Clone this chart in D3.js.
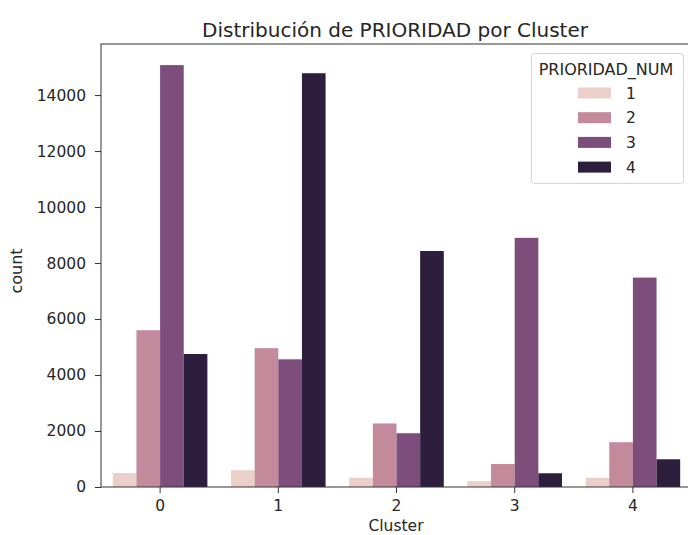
<!DOCTYPE html>
<html><head><meta charset="utf-8">
<script src="https://cdn.jsdelivr.net/npm/d3@7"></script>
<style>body{margin:0;background:#fff}svg{display:block}text{font-family:"DejaVu Sans",sans-serif;fill:#262626}</style>
</head><body><div id="chart"></div>
<script>
const clusters = ["0","1","2","3","4"];
const priorities = ["1","2","3","4"];
const p1 = [500, 600, 330, 210, 330];
const p2 = [5600, 4960, 2270, 820, 1600];
const p3 = [15070, 4560, 1920, 8900, 7480];
const p4 = [4750, 14780, 8430, 490, 990];
const yTicks = [0, 2000, 4000, 6000, 8000, 10000, 12000, 14000];
const colors = ["#ebcfc9", "#c38a9b", "#7d4e7b", "#2d1e3d"];
const series = [p1, p2, p3, p4];

const W = 688, H = 535;
const m = {left: 101, top: 44, right: 692, bottom: 487};
const svg = d3.select("#chart").append("svg").attr("width", W).attr("height", H);

const x = d3.scaleBand().domain(clusters).range([m.left, m.right]).paddingInner(0.2).paddingOuter(0.1);
const xi = d3.scaleBand().domain(priorities).range([0, x.bandwidth()]);
const y = d3.scaleLinear().domain([0, 15824]).range([m.bottom, m.top]);

series.forEach((s, k) => {
  svg.append("g").selectAll("rect").data(s).join("rect")
    .attr("x", (d, i) => x(clusters[i]) + xi(priorities[k]))
    .attr("width", xi.bandwidth())
    .attr("y", d => y(d))
    .attr("height", d => y(0) - y(d))
    .attr("fill", colors[k]);
});

// axes
const xAxis = svg.append("g").attr("transform", `translate(0,${m.bottom})`)
  .call(d3.axisBottom(x).tickSize(6).tickPadding(7));
const yAxis = svg.append("g").attr("transform", `translate(${m.left},0)`)
  .call(d3.axisLeft(y).tickValues(yTicks).tickFormat(d3.format("d")).tickSize(6).tickPadding(9));
[xAxis, yAxis].forEach(g => {
  g.select(".domain").remove();
  g.selectAll("line").attr("stroke", "#333").attr("stroke-width", 1);
  g.selectAll("text").attr("font-size", 15.5).attr("fill", "#262626").style("font-family", "DejaVu Sans");
});
// spines
svg.append("rect").attr("x", m.left).attr("y", m.top).attr("width", m.right - m.left).attr("height", m.bottom - m.top)
  .attr("fill", "none").attr("stroke", "#333").attr("stroke-width", 1);

// labels
svg.append("text").attr("x", 395).attr("y", 36.5).attr("text-anchor", "middle")
  .attr("font-size", 20).text("Distribución de PRIORIDAD por Cluster");
svg.append("text").attr("x", 396).attr("y", 531).attr("text-anchor", "middle")
  .attr("font-size", 15.5).text("Cluster");
svg.append("text").attr("transform", `translate(22,${271}) rotate(-90)`).attr("text-anchor", "middle")
  .attr("font-size", 16).text("count");

// legend
const lg = svg.append("g");
lg.append("rect").attr("x", 531.5).attr("y", 53.5).attr("width", 152).attr("height", 130).attr("rx", 3)
  .attr("fill", "#fff").attr("fill-opacity", 0.8).attr("stroke", "#d5d5d5");
lg.append("text").attr("x", 606).attr("y", 75).attr("text-anchor", "middle").attr("font-size", 16).text("PRIORIDAD_NUM");
priorities.forEach((p, k) => {
  const cy = 93 + k * 24.7;
  lg.append("rect").attr("x", 578).attr("y", cy - 5.5).attr("width", 33).attr("height", 11).attr("fill", colors[k]);
  lg.append("text").attr("x", 626).attr("y", cy + 5.5).attr("font-size", 15.5).text(p);
});
</script></body></html>
